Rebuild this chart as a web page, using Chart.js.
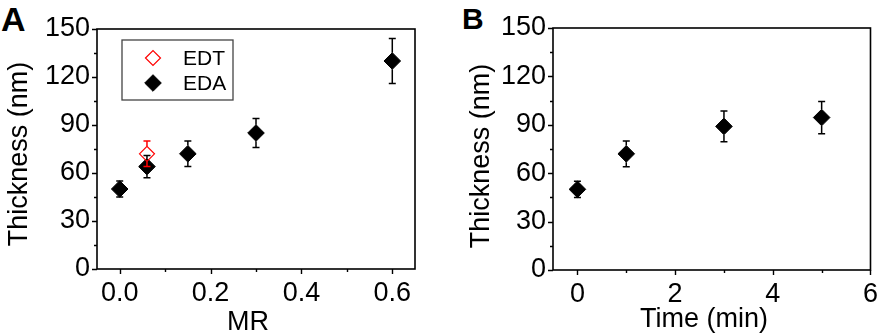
<!DOCTYPE html>
<html>
<head>
<meta charset="utf-8">
<script src="https://cdn.jsdelivr.net/npm/chart.js@4.4.1/dist/chart.umd.min.js"></script>
<style>
  body { margin: 0; background: #fff; width: 886px; height: 334px; position: relative; overflow: hidden; }
  canvas { position: absolute; top: 0; }
  #chart-a { left: 0; }
  #chart-b { left: 443px; }
  .panel { position: absolute; font-family: "Liberation Sans", Arial, sans-serif; font-weight: bold; line-height: 1; }
</style>
</head>
<body>
<div class="panel" style="left:1px;top:2px;font-size:34px">A</div>
<div class="panel" style="left:462px;top:4px;font-size:30px">B</div>
<canvas id="chart-a" width="443" height="334"></canvas>
<canvas id="chart-b" width="443" height="334"></canvas>
<script>
// Panel A: thickness vs MR
const mrValues = [0, 0.06, 0.15, 0.3, 0.6];
const edaThickness = [50, 64, 72, 85, 130];
const edaError = [5, 7, 8, 9, 14];
const edtMr = [0.06];
const edtThickness = [72];
const edtError = [8];

// Panel B: thickness vs time
const timeValues = [0, 1, 3, 5];
const timeThickness = [50, 72, 89, 94.5];
const timeError = [5, 8, 9.5, 10];

// tick positions (major ones get labels)
const thicknessTicks = [0, 15, 30, 45, 60, 75, 90, 105, 120, 135, 150];
const thicknessLabels = ["0", "", "30", "", "60", "", "90", "", "120", "", "150"];
const mrTicks = [0, 0.1, 0.2, 0.3, 0.4, 0.5, 0.6];
const mrTickLabels = ["0.0", "", "0.2", "", "0.4", "", "0.6"];
const timeTicks = [0, 1, 2, 3, 4, 5, 6];
const timeTickLabels = ["0", "", "2", "", "4", "", "6"];

const FONT = '"Liberation Sans", Arial, sans-serif';

const labelFor = (ticks, labels) => (value) => {
    const i = ticks.findIndex((t) => Math.abs(t - value) < 1e-6);
    return i >= 0 ? labels[i] : "";
};

const setTicks = (ticks) => (scale) => {
    scale.ticks = ticks.map((v) => ({ value: v }));
};

const points = (xs, ys) => xs.map((x, i) => ({ x: x, y: ys[i] }));

// box round the plot and outward major/minor ticks
const framePlugin = {
    id: "frame",
    beforeDatasetsDraw(chart) {
        const { ctx, chartArea: a, scales } = chart;
        ctx.save();
        ctx.strokeStyle = "#000";
        ctx.lineWidth = 1.6;
        ctx.strokeRect(a.left, a.top, a.right - a.left, a.bottom - a.top);
        ctx.beginPath();
        ctx.lineWidth = 1.4;
        scales.x.ticks.forEach((t) => {
            const px = Math.round(scales.x.getPixelForValue(t.value)) + 0.5;
            const len = t.label ? 5 : 3;
            ctx.moveTo(px, a.bottom);
            ctx.lineTo(px, a.bottom + len);
        });
        scales.y.ticks.forEach((t) => {
            const py = Math.round(scales.y.getPixelForValue(t.value)) + 0.5;
            const len = t.label ? 5 : 3;
            ctx.moveTo(a.left, py);
            ctx.lineTo(a.left - len, py);
        });
        ctx.stroke();
        ctx.restore();
    },
};

// axis titles, placed a little off-centre as in the original figure
const axisTitlePlugin = {
    id: "axisTitles",
    afterDraw(chart, args, opts) {
        const { ctx } = chart;
        ctx.save();
        ctx.fillStyle = "#000";
        ctx.font = "27px " + FONT;
        ctx.textAlign = "center";
        ctx.textBaseline = "alphabetic";
        ctx.fillText(opts.xText, opts.xCenter, opts.xBaseline);
        ctx.translate(opts.yCenter, opts.yMiddle);
        ctx.rotate(-Math.PI / 2);
        ctx.textBaseline = "middle";
        ctx.fillText(opts.yText, 0, 0);
        ctx.restore();
    },
};

// vertical error bars, drawn right after their own dataset, outside the marker
const errorBarPlugin = {
    id: "errorBars",
    afterDatasetDraw(chart, args) {
        const ds = chart.data.datasets[args.index];
        if (!ds.errors) return;
        const { ctx, scales } = chart;
        const r = ds.pointRadius;
        ctx.save();
        ctx.strokeStyle = ds.borderColor;
        ctx.lineWidth = 1.5;
        ctx.beginPath();
        ds.data.forEach((p, i) => {
            const x = scales.x.getPixelForValue(p.x);
            const yc = scales.y.getPixelForValue(p.y);
            const y1 = scales.y.getPixelForValue(p.y + ds.errors[i]);
            const y2 = scales.y.getPixelForValue(p.y - ds.errors[i]);
            if (y1 < yc - r) {
                ctx.moveTo(x, y1);
                ctx.lineTo(x, yc - r);
            }
            if (y2 > yc + r) {
                ctx.moveTo(x, yc + r);
                ctx.lineTo(x, y2);
            }
            ctx.moveTo(x - 3.5, y1);
            ctx.lineTo(x + 3.5, y1);
            ctx.moveTo(x - 3.5, y2);
            ctx.lineTo(x + 3.5, y2);
        });
        ctx.stroke();
        ctx.restore();
    },
};

// boxed legend inside the plot
const boxLegendPlugin = {
    id: "boxLegend",
    afterDraw(chart, args, opts) {
        if (!opts.show) return;
        const { ctx, chartArea: a } = chart;
        const x0 = a.left + 25, y0 = a.top + 11, w = 111, h = 60;
        ctx.save();
        ctx.strokeStyle = "#444";
        ctx.lineWidth = 1.3;
        ctx.strokeRect(x0, y0, w, h);
        ctx.font = "21px " + FONT;
        ctx.textBaseline = "middle";
        chart.data.datasets.forEach((ds, i) => {
            const cy = y0 + 18 + i * 25;
            ctx.fillStyle = ds.backgroundColor;
            ctx.strokeStyle = ds.borderColor;
            ctx.lineWidth = ds.borderWidth;
            Chart.helpers.drawPoint(ctx, {
                pointStyle: "rectRot",
                radius: ds.pointRadius,
                rotation: 0,
                borderWidth: ds.borderWidth,
            }, x0 + 31, cy);
            ctx.fillStyle = "#000";
            ctx.fillText(ds.label, x0 + 61, cy + 1);
        });
        ctx.restore();
    },
};

const axisY = (width) => ({
    min: 0,
    max: 150,
    afterFit: (scale) => { scale.width = width; },
    afterBuildTicks: setTicks(thicknessTicks),
    grid: { display: false, drawTicks: false },
    border: { display: false },
    ticks: {
        autoSkip: false,
        padding: 7,
        color: "#000",
        font: { family: FONT, size: 27 },
        callback: labelFor(thicknessTicks, thicknessLabels),
    },
});

const axisX = (min, max, ticks, labels, height) => ({
    type: "linear",
    min: min,
    max: max,
    afterFit: (scale) => { scale.height = height; },
    afterBuildTicks: setTicks(ticks),
    grid: { display: false, drawTicks: false },
    border: { display: false },
    ticks: {
        autoSkip: false,
        maxRotation: 0,
        padding: 8,
        color: "#000",
        font: { family: FONT, size: 27 },
        callback: labelFor(ticks, labels),
    },
});

const baseOptions = (x, y, padding, legend, titles) => ({
    responsive: false,
    animation: false,
    events: [],
    layout: { padding: padding },
    scales: { x: x, y: y },
    plugins: {
        legend: { display: false },
        tooltip: { enabled: false },
        boxLegend: { show: legend },
        axisTitles: titles,
    },
});

new Chart(document.getElementById("chart-a"), {
    type: "scatter",
    data: {
        datasets: [
            {
                label: "EDT",
                data: points(edtMr, edtThickness),
                errors: edtError,
                pointStyle: "rectRot",
                pointRadius: 7.5,
                backgroundColor: "rgba(0,0,0,0)",
                borderColor: "#ff0000",
                borderWidth: 1.2,
            },
            {
                label: "EDA",
                data: points(mrValues, edaThickness),
                errors: edaError,
                pointStyle: "rectRot",
                pointRadius: 8.3,
                backgroundColor: "#000",
                borderColor: "#000",
                borderWidth: 1,
            },
        ],
    },
    options: baseOptions(
        axisX(-0.05, 0.65, mrTicks, mrTickLabels, 65),
        axisY(97),
        { left: 0, right: 28, top: 29, bottom: 0 },
        true,
        { xText: "MR", xCenter: 248, xBaseline: 330, yText: "Thickness (nm)", yCenter: 20, yMiddle: 154 }
    ),
    plugins: [framePlugin, errorBarPlugin, boxLegendPlugin, axisTitlePlugin],
});

new Chart(document.getElementById("chart-b"), {
    type: "scatter",
    data: {
        datasets: [
            {
                label: "Thickness",
                data: points(timeValues, timeThickness),
                errors: timeError,
                pointStyle: "rectRot",
                pointRadius: 8.3,
                backgroundColor: "#000",
                borderColor: "#000",
                borderWidth: 1,
            },
        ],
    },
    options: baseOptions(
        axisX(-0.5, 6, timeTicks, timeTickLabels, 64),
        axisY(110),
        { left: 0, right: 9, top: 28, bottom: 0 },
        false,
        { xText: "Time (min)", xCenter: 261, xBaseline: 327, yText: "Thickness (nm)", yCenter: 39, yMiddle: 156 }
    ),
    plugins: [framePlugin, errorBarPlugin, boxLegendPlugin, axisTitlePlugin],
});
</script>
</body>
</html>
